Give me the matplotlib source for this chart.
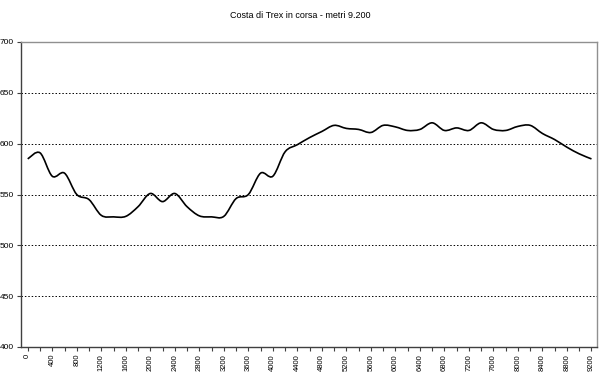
import numpy as np
import matplotlib
matplotlib.use("Agg")
import matplotlib.pyplot as plt
from matplotlib.path import Path
from matplotlib.patches import PathPatch

# distance (m) and altitude (m), one reading every 200 m
distanza = list(range(0, 9201, 200))
quota = [585, 591, 568, 571, 550, 545, 529.5, 528, 528.5, 538,
         551, 543, 551, 538, 529, 528, 528.5, 546, 550, 571,
         568, 592, 599, 606, 612, 618, 615, 614, 611, 618,
         616.5, 613, 614, 620.5, 613, 615.5, 613, 620.5, 614, 613,
         617, 618, 610, 604, 596.5, 590, 585]
y_ticks = [400, 450, 500, 550, 600, 650, 700]
x_labels = list(range(0, 9201, 400))
titolo = "Costa di Trex in corsa - metri 9.200"

plt.rcParams['font.family'] = ['Liberation Sans', 'DejaVu Sans']

fig = plt.figure(figsize=(6.0, 3.73), dpi=100)
ax = fig.add_axes([21/600, 26/373, 576/600, 305/373])

# smoothed line like excel (bezier through the points)
x = np.array(distanza, dtype=float)
y = np.array(quota, dtype=float)
n = len(x)
verts = [(x[0], y[0])]
codes = [Path.MOVETO]
for i in range(n - 1):
    p0 = np.array([x[max(i-1, 0)], y[max(i-1, 0)]])
    p1 = np.array([x[i], y[i]])
    p2 = np.array([x[i+1], y[i+1]])
    p3 = np.array([x[min(i+2, n-1)], y[min(i+2, n-1)]])
    c1 = p1 + (p2 - p0) / 6
    c2 = p2 - (p3 - p1) / 6
    verts += [tuple(c1), tuple(c2), tuple(p2)]
    codes += [Path.CURVE4] * 3
ax.add_patch(PathPatch(Path(verts, codes), facecolor="none", edgecolor="black", lw=1.2))

ax.set_xlim(-110, 9290)
ax.set_ylim(400, 700)

ax.set_yticks(y_ticks)
ax.set_yticklabels([str(v) for v in y_ticks], fontsize=6)
for v in y_ticks[1:-1]:
    ax.axhline(v, color="black", lw=0.7, ls=(0, (1.5, 2)))

ax.set_xticks(x_labels)
ax.set_xticklabels([str(v) for v in x_labels], fontsize=5.5, rotation=90)
ax.set_xticks(distanza, minor=True)
ax.tick_params(axis="both", which="both", length=3, width=0.8, color="#404040", pad=2)
ax.tick_params(axis="x", which="minor", length=3)

for s in ["top", "right"]:
    ax.spines[s].set_color("#909090")
    ax.spines[s].set_linewidth(1.0)
for s in ["left", "bottom"]:
    ax.spines[s].set_color("#404040")
    ax.spines[s].set_linewidth(1.0)

fig.text(300/600, 1 - 15/373, titolo, ha="center", va="center", fontsize=6.5)

fig.savefig("out.png", dpi=100)
